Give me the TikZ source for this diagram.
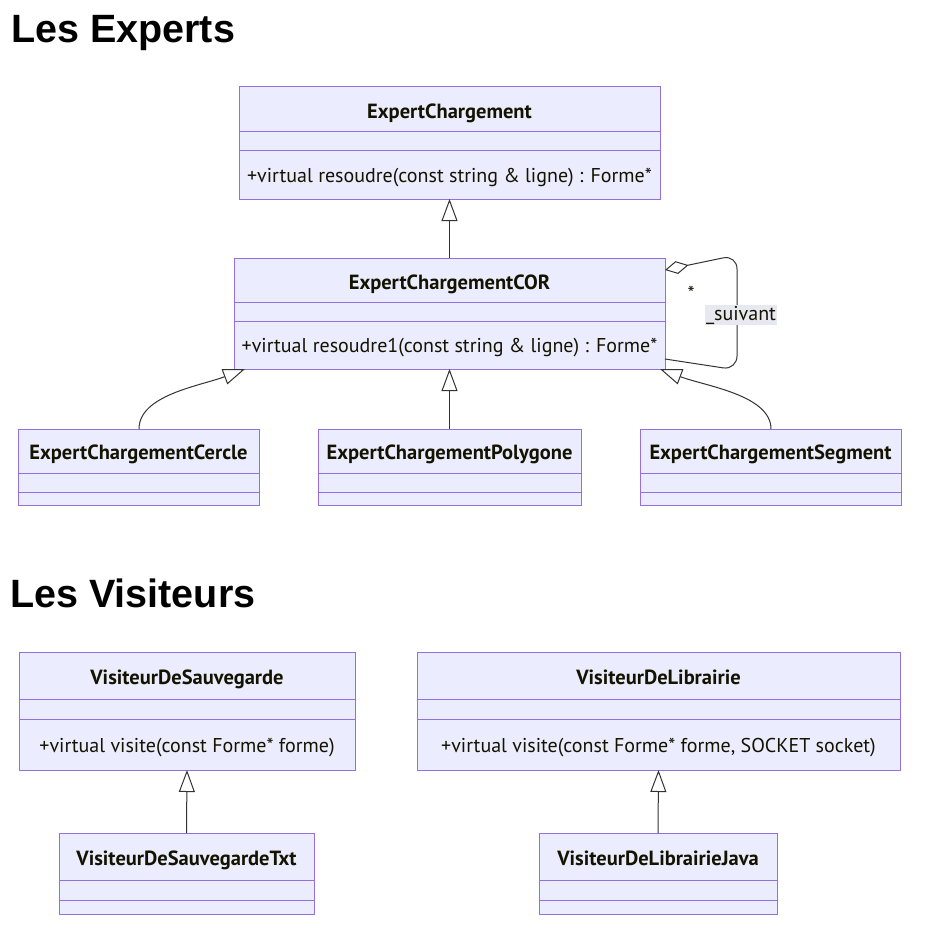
\documentclass[tikz,border=0pt]{standalone}
\usepackage{fontspec}
\setmainfont{PT Sans}
\newfontfamily\headfont{Liberation Sans}
\usetikzlibrary{arrows.meta}
\definecolor{umlfill}{HTML}{ECECFF}
\definecolor{umlborder}{HTML}{9370DB}
\definecolor{umlline}{HTML}{333333}
\definecolor{umltext}{HTML}{131300}
\definecolor{lblbg}{HTML}{E8E8F0}
\tikzset{
  cls/.style={draw=umlborder, fill=umlfill, line width=1pt, inner sep=0pt, outer sep=0pt, rectangle},
  divider/.style={draw=umlborder, line width=1pt},
  ctitle/.style={font=\bfseries\fontsize{20.5}{24}\selectfont, text=umltext, inner sep=0pt, text height=15pt, text depth=5pt, yshift=-2.5pt},
  cmeth/.style={font=\fontsize{20}{24}\selectfont, text=umltext, inner sep=0pt, text height=15pt, text depth=5pt, yshift=-2.5pt},
  heading/.style={font=\headfont\bfseries\fontsize{39.5}{46}\selectfont, text=black, inner sep=0pt, anchor=base west},
  inh/.style={draw=umlline, line width=1pt, -{Triangle[open, length=22pt, width=16pt, fill=white]}},
  agg/.style={draw=umlline, line width=1pt, {Diamond[open, length=24pt, width=13pt, fill=white]}-},
  elabel/.style={font=\fontsize{20}{24}\selectfont, text=umltext, inner sep=1pt},
}
\begin{document}
\begin{tikzpicture}[x=1pt,y=-1pt]
\useasboundingbox (0,0) rectangle (938,944);
\fill[white] (0,0) rectangle (938,944);

% headings
\node[heading] (h1) at (11,43) {Les Experts};
\node[heading] (h2) at (10,607) {Les Visiteurs};

% ExpertChargement
\node[cls, minimum width=421pt, minimum height=112pt] (ec) at (449.5,143) {};
\draw[divider] (239,132) -- (660,132);
\draw[divider] (239,151) -- (660,151);
\node[ctitle] (ect) at (449.5,111) {ExpertChargement};
\node[cmeth] (ecm) at (449.5,175) {+virtual resoudre(const string \& ligne) : Forme*};

% ExpertChargementCOR
\node[cls, minimum width=431pt, minimum height=111pt] (cor) at (449.5,313.5) {};
\draw[divider] (234,302) -- (665,302);
\draw[divider] (234,321) -- (665,321);
\node[ctitle] (cort) at (449.5,282) {ExpertChargementCOR};
\node[cmeth] (corm) at (449.5,345) {+virtual resoudre1(const string \& ligne) : Forme*};

% Cercle
\node[cls, minimum width=241pt, minimum height=76pt] (cer) at (138.5,467) {};
\draw[divider] (18,473) -- (259,473);
\draw[divider] (18,492) -- (259,492);
\node[ctitle] (cert) at (138.5,452) {ExpertChargementCercle};

% Polygone
\node[cls, minimum width=263pt, minimum height=76pt] (pol) at (449.5,467) {};
\draw[divider] (318,473) -- (581,473);
\draw[divider] (318,492) -- (581,492);
\node[ctitle] (polt) at (449.5,452) {ExpertChargementPolygone};

% Segment
\node[cls, minimum width=261pt, minimum height=76pt] (seg) at (770.5,467) {};
\draw[divider] (640,473) -- (901,473);
\draw[divider] (640,492) -- (901,492);
\node[ctitle] (segt) at (770.5,452) {ExpertChargementSegment};

% VisiteurDeSauvegarde
\node[cls, minimum width=336pt, minimum height=118pt] (vs) at (187,711) {};
\draw[divider] (19,699) -- (355,699);
\draw[divider] (19,719) -- (355,719);
\node[ctitle] (vst) at (187,677) {VisiteurDeSauvegarde};
\node[cmeth] (vsm) at (187,745) {+virtual visite(const Forme* forme)};

% VisiteurDeLibrairie
\node[cls, minimum width=483pt, minimum height=118pt] (vl) at (658.5,711) {};
\draw[divider] (417,699) -- (900,699);
\draw[divider] (417,719) -- (900,719);
\node[ctitle] (vlt) at (658.5,677) {VisiteurDeLibrairie};
\node[cmeth] (vlm) at (658.5,745) {+virtual visite(const Forme* forme, SOCKET socket)};

% VisiteurDeSauvegardeTxt
\node[cls, minimum width=255pt, minimum height=81pt] (vsx) at (186.5,873.5) {};
\draw[divider] (59,880) -- (314,880);
\draw[divider] (59,900) -- (314,900);
\node[ctitle] (vsxt) at (186.5,858) {VisiteurDeSauvegardeTxt};

% VisiteurDeLibrairieJava
\node[cls, minimum width=238pt, minimum height=81pt] (vlj) at (658,873.5) {};
\draw[divider] (539,880) -- (777,880);
\draw[divider] (539,900) -- (777,900);
\node[ctitle] (vljt) at (658,858) {VisiteurDeLibrairieJava};

% inheritance connectors
\draw[inh] (cor.north) -- (ec.south);
\draw[inh] (pol.north) -- (cor.south);
\coordinate (cerTop) at (139,429);
\coordinate (corSW) at (245,369);
\draw[inh] (cerTop) .. controls (139,395) and (200,386) .. (corSW);
\coordinate (segTop) at (771,429);
\coordinate (corSE) at (660,369);
\draw[inh] (segTop) .. controls (771,395) and (705,386) .. (corSE);
\draw[inh] (vsx.north) -- (vs.south);
\draw[inh] (vlj.north) -- (vl.south);

% self aggregation
\coordinate (aggA) at (665,270);
\coordinate (aggB) at (665,359);
\draw[agg, rounded corners=14pt] (aggA) -- (737,255) -- (737,370) -- (aggB);
\node[elabel] (star) at (691,293) {*};
\node[elabel, fill=lblbg] (suiv) at (741,315) {\_suivant};
\end{tikzpicture}
\end{document}
